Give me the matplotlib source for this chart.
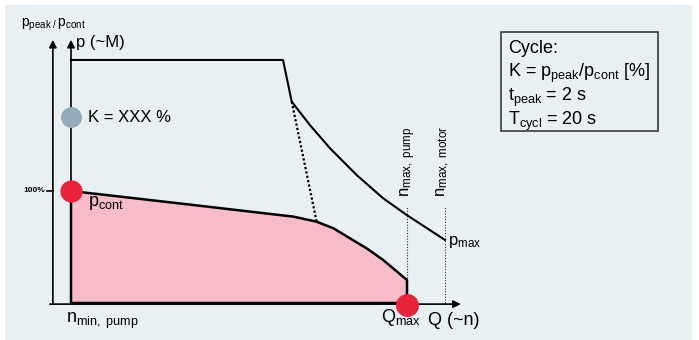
import matplotlib
matplotlib.use("Agg")
import matplotlib.pyplot as plt
from matplotlib.patches import Rectangle

plt.rcParams['font.family'] = ['Liberation Sans', 'DejaVu Sans']
plt.rcParams['mathtext.fontset'] = 'custom'
plt.rcParams['mathtext.rm'] = 'Liberation Sans'
plt.rcParams['mathtext.it'] = 'Liberation Sans:italic'

# Q in % of Q_max, p in % of p_cont
peak_q = [0, 63.1, 65.7, 71.1, 77.1, 85.0, 92.9, 99.9, 111.3]
peak_p = [217, 217, 179.7, 158.9, 138.1, 114.3, 93.5, 78.6, 56.3]

cont_q = [0, 36.4, 66.2, 73.1, 78.1, 83.0, 88.0, 92.9, 100, 100]
cont_p = [100, 87.5, 77.1, 72.6, 66.7, 57.8, 48.8, 38.4, 20.5, 0]

dotted_q = [65.7, 73.1]
dotted_p = [179.7, 72.6]

q_max_pump = 100
q_max_motor = 111.3
guide_top = 87
k_level = 166
p_cont = 100
q_min = 0

bg = '#e8f0f4'
red = '#e8233a'
pink = '#f7bcc8'
grey = '#93abbb'

W, H = 699, 340


def fx(x):
    return x / W


def fy(y):
    return 1 - y / H


fig = plt.figure(figsize=(W / 100, H / 100), dpi=100)
fig.patches.append(Rectangle((fx(5), 0), fx(687), 1 - 5 / H, transform=fig.transFigure,
                             facecolor=bg, edgecolor='none', zorder=-5))

ax = fig.add_axes([0, 0, 1, 1])
ax.set_zorder(1)
ax.set_facecolor('none')
# 1 unit Q = 3.36 px, 1 % p = 1.12 px, origin at px (71, 303)
ax.set_xlim(-71 / 3.36, (W - 71) / 3.36)
ax.set_ylim(-(H - 303) / 1.12, 303 / 1.12)
ax.axis('off')

arrow = dict(arrowstyle='-|>', color='black', lw=1.2, shrinkA=0, shrinkB=0, mutation_scale=11)
ax.annotate('', xy=(-5.4, 235), xytext=(-5.4, -1), arrowprops=arrow)
ax.annotate('', xy=(q_min, 235), xytext=(q_min, 0), arrowprops=arrow)
ax.annotate('', xy=(116, -1), xytext=(-6.3, -1), arrowprops=arrow)

# continuous area
ax.fill(cont_q + [q_min], cont_p + [0], color=pink, lw=0, zorder=1)
ax.plot(cont_q + [q_min, q_min], cont_p + [0, p_cont], color='black', lw=1.8, zorder=3)

# peak curve
ax.plot(peak_q, peak_p, color='black', lw=1.5, zorder=3)
ax.plot(dotted_q, dotted_p, color='black', lw=1.6, ls=(0, (1, 1)), zorder=3)

# speed limits
for q in [q_max_pump, q_max_motor]:
    ax.plot([q, q], [0, guide_top], color='#333333', lw=0.8, ls=(0, (1, 1.5)), zorder=2)

# 100% tick
ax.plot([-7.2, -5.4], [p_cont, p_cont], color='black', lw=1.2)

ax.plot([q_min], [p_cont], 'o', color=red, ms=15, zorder=5)
ax.plot([q_max_pump], [-1.8], 'o', color=red, ms=15.5, zorder=5)
ax.plot([q_min], [k_level], 'o', color=grey, ms=14, zorder=5)

fig.text(fx(21), fy(27), r'$\mathregular{p_{peak\ /}\,p_{cont}}$', fontsize=10, va='baseline')
fig.text(fx(76), fy(46.5), 'p (~M)', fontsize=12, va='baseline')
fig.text(fx(88), fy(117), 'K = XXX %', fontsize=12, va='center')
fig.text(fx(45), fy(191), '100%', fontsize=6, fontweight='bold', ha='right', va='center')
fig.text(fx(88), fy(206), r'$\mathregular{p_{cont}}$', fontsize=13, va='baseline')
fig.text(fx(66), fy(323), r'$\mathregular{n_{min,\ pump}}$', fontsize=13, va='baseline')
fig.text(fx(381), fy(322), r'$\mathregular{Q_{max}}$', fontsize=13, va='baseline')
fig.text(fx(428), fy(325), 'Q (~n)', fontsize=13, va='baseline')
fig.text(fx(448), fy(245), r'$\mathregular{p_{max}}$', fontsize=12, va='baseline')
fig.text(fx(408), fy(197), r'$\mathregular{n_{max,\ pump}}$', fontsize=12, rotation=90,
         ha='center', va='bottom')
fig.text(fx(443), fy(197), r'$\mathregular{n_{max,\ motor}}$', fontsize=12, rotation=90,
         ha='center', va='bottom')

# cycle box
fig.patches.append(Rectangle((fx(501), fy(131)), fx(157), 99 / H, transform=fig.transFigure,
                             facecolor='none', edgecolor='#3a3a3a', lw=1.2, zorder=3))
box_lines = ['Cycle:',
             r'K = $\mathregular{p_{peak}/p_{cont}}$ [%]',
             r'$\mathregular{t_{peak}}$ = 2 s',
             r'$\mathregular{T_{cycl}}$ = 20 s']
for i, s in enumerate(box_lines):
    fig.text(fx(508), fy(53 + 24 * i), s, fontsize=13, va='baseline')

fig.savefig('out.png', dpi=100)
